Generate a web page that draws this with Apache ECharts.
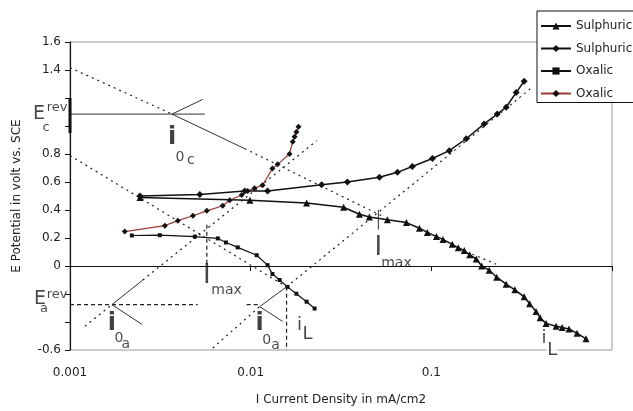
<!DOCTYPE html>
<html>
<head>
<meta charset="utf-8">
<script src="https://cdn.jsdelivr.net/npm/echarts@6/dist/echarts.min.js"></script>
<style>
  html, body { margin: 0; padding: 0; background: #fff; }
  #chart { width: 633px; height: 411px; }
</style>
</head>
<body>
<div id="chart"></div>
<script>
// legend names (trailing space keeps the two pairs apart, trimmed on display)
const seriesNames = ["Sulphuric", "Sulphuric ", "Oxalic", "Oxalic "];

const xTickLabels = [0.001, 0.01, 0.1];
const yTickLabels = [-0.6, 0, 0.2, 0.4, 0.6, 0.8, 1.4, 1.6];

// measured curves [current density, potential]
const sulphuricTriangle = [
  [0.00244, 0.49], [0.0099, 0.47], [0.0204, 0.45], [0.0327, 0.42], [0.040, 0.37],
  [0.0454, 0.35], [0.0571, 0.33], [0.0728, 0.31], [0.0859, 0.27], [0.0951, 0.24],
  [0.1067, 0.21], [0.116, 0.19], [0.1306, 0.155], [0.141, 0.13], [0.1521, 0.11],
  [0.163, 0.08], [0.1773, 0.05], [0.19, 0.0], [0.209, -0.03], [0.23, -0.08],
  [0.2596, -0.13], [0.29, -0.17], [0.3266, -0.22], [0.35, -0.27], [0.380, -0.325],
  [0.40, -0.37], [0.4315, -0.41], [0.4906, -0.43], [0.53, -0.44], [0.578, -0.45],
  [0.64, -0.48], [0.718, -0.52]
];
const sulphuricDiamond = [
  [0.00244, 0.50], [0.00523, 0.51], [0.00927, 0.535], [0.0124, 0.535], [0.0247, 0.58],
  [0.0343, 0.60], [0.0516, 0.634], [0.0649, 0.669], [0.0785, 0.711], [0.1014, 0.768],
  [0.1257, 0.824], [0.156, 0.909], [0.196, 1.015], [0.2316, 1.085], [0.2596, 1.134],
  [0.295, 1.24], [0.3266, 1.32]
];
const oxalicBlack = [
  [0.0022, 0.218], [0.00314, 0.22], [0.00491, 0.21], [0.00658, 0.197], [0.0073, 0.168],
  [0.00848, 0.133], [0.0108, 0.077], [0.0124, 0.006], [0.0132, -0.057], [0.01446, -0.10],
  [0.016, -0.149], [0.0179, -0.198], [0.0204, -0.255], [0.0226, -0.304]
];
const oxalicRed = [
  [0.00201, 0.246], [0.00335, 0.288], [0.00395, 0.324], [0.00479, 0.359], [0.00572, 0.394],
  [0.0070, 0.43], [0.00766, 0.47], [0.00892, 0.507], [0.00962, 0.535], [0.0105, 0.556],
  [0.01164, 0.577], [0.0132, 0.697], [0.0141, 0.726], [0.0164, 0.80], [0.0171, 0.888],
  [0.0175, 0.923], [0.0179, 0.958], [0.0184, 0.994]
];

// construction lines
const solidLines = [
  [[0.001, 1.085], [0.00557, 1.085]],
  [[0.00367, 1.085], [0.00543, 1.19]],
  [[0.00367, 1.085], [0.00927, 0.838]],
  [[0.001706, -0.276], [0.00253, -0.10]],
  [[0.001706, -0.276], [0.0025, -0.417]],
  [[0.01122, -0.29], [0.0158, -0.149]],
  [[0.01122, -0.29], [0.01503, -0.396]],
  [[0.0509, 0.401], [0.0509, 0.26]]
];
const dottedLines = [
  [[0.001, 1.417], [0.00367, 1.085]],
  [[0.00927, 0.838], [0.053, 0.359]],
  [[0.001, 0.789], [0.0158, -0.149]],
  [[0.00121, -0.431], [0.001706, -0.276]],
  [[0.00253, -0.10], [0.0232, 0.895]],
  [[0.00617, -0.586], [0.01122, -0.29]],
  [[0.0158, -0.149], [0.361, 1.276]],
  [[0.1687, 0.084], [0.2286, 0.013]]
];
const dashedLines = [
  [[0.001, -0.276], [0.00509, -0.276]],
  [[0.0095, -0.276], [0.0112, -0.276]],
  [[0.00572, 0.295], [0.00572, -0.008]],
  [[0.0158, -0.149], [0.0158, -0.6]]
];
const axisMark = [[0.001, 1.2], [0.001, 0.95]];

// annotation texts [x, y, text]
const boldLetters = [[0.00367, 0.916, "i"], [0.001706, -0.41, "i"], [0.01122, -0.41, "i"]];
const plainLetters = [[0.01866, -0.424, "i"], [0.4207, -0.516, "i"], [0.02065, -0.487, "L"], [0.4667, -0.60, "L"]];
const capLetters = [[0.00572, -0.071, "I"], [0.0509, 0.126, "I"]];
const subLetters = [
  [0.00406, 0.775, "0"], [0.00467, 0.754, "c"], [0.001866, -0.516, "0"], [0.002037, -0.558, "a"],
  [0.01225, -0.53, "0"], [0.01375, -0.565, "a"], [0.00736, -0.177, "max"], [0.0641, 0.02, "max"]
];
const eLetters = [[0.000674, 1.085, "E"], [0.000683, -0.234, "E"]];
const supLetters = [[0.000848, 1.128, "rev"], [0.000848, -0.205, "rev"], [0.000737, 0.986, "c"], [0.000718, -0.304, "a"]];

const font = "DejaVu Sans";
const chart = echarts.init(document.getElementById("chart"));

function near(list, v) {
  return list.some(t => Math.abs(t - v) < 1e-6);
}

function lineSeries(segments, style) {
  return segments.map(seg => ({
    type: "line",
    data: seg,
    symbol: "none",
    silent: true,
    clip: false,
    z: 1,
    lineStyle: style
  }));
}

function textSeries(items, label) {
  return {
    type: "scatter",
    data: items,
    symbolSize: 0,
    silent: true,
    clip: false,
    z: 5,
    label: Object.assign({
      show: true,
      position: "inside",
      color: "#1a1a1a",
      fontFamily: font,
      formatter: p => p.data[2]
    }, label)
  };
}

const series = [
  {
    name: seriesNames[0], type: "line", data: sulphuricTriangle,
    symbol: "triangle", symbolSize: 7, z: 3,
    lineStyle: { color: "#111", width: 1.5 }, itemStyle: { color: "#111" }
  },
  {
    name: seriesNames[1], type: "line", data: sulphuricDiamond,
    symbol: "diamond", symbolSize: 7, z: 3,
    lineStyle: { color: "#111", width: 1.5 }, itemStyle: { color: "#111" }
  },
  {
    name: seriesNames[2], type: "line", data: oxalicBlack,
    symbol: "rect", symbolSize: 4, z: 3,
    lineStyle: { color: "#111", width: 1.2 }, itemStyle: { color: "#111" }
  },
  {
    name: seriesNames[3], type: "line", data: oxalicRed,
    symbol: "diamond", symbolSize: 6, z: 3,
    lineStyle: { color: "#9c3b34", width: 1.2 }, itemStyle: { color: "#111" }
  }
]
  .concat(lineSeries(solidLines, { color: "#333", width: 1 }))
  .concat(lineSeries(dottedLines, { color: "#222", width: 1.2, type: [2, 4] }))
  .concat(lineSeries(dashedLines, { color: "#222", width: 1.2, type: [4, 3] }))
  .concat(lineSeries([axisMark], { color: "#111", width: 3 }))
  .concat([
    textSeries(boldLetters, { fontSize: 24, fontWeight: "bold", color: "#111" }),
    textSeries(plainLetters, { fontSize: 18, backgroundColor: "#fff", padding: [0, 1] }),
    textSeries(capLetters, { fontSize: 26 }),
    textSeries(subLetters, { fontSize: 14 }),
    textSeries(eLetters, { fontSize: 19 }),
    textSeries(supLetters, { fontSize: 13 })
  ]);

chart.setOption({
  animation: false,
  backgroundColor: "#fff",
  textStyle: { fontFamily: font },
  grid: {
    left: 70, right: 21, top: 42, bottom: 58,
    show: true, borderColor: "#999", borderWidth: 1
  },
  legend: {
    data: seriesNames,
    orient: "vertical",
    left: 537, top: 11,
    padding: [9, 60, 3, 3],
    itemWidth: 30, itemHeight: 9, itemGap: 10.5,
    backgroundColor: "#fff",
    borderColor: "#111", borderWidth: 1,
    textStyle: { fontFamily: font, fontSize: 12, color: "#222" },
    formatter: name => name.trim()
  },
  xAxis: {
    type: "log", logBase: 10, min: 0.001, max: 1,
    name: "I Current Density in mA/cm2",
    nameLocation: "middle", nameGap: 44,
    nameTextStyle: { fontFamily: font, fontSize: 12, color: "#222" },
    axisLine: { lineStyle: { color: "#111", width: 1.2 } },
    axisTick: { length: 5, lineStyle: { color: "#111" } },
    minorTick: { show: false },
    splitLine: { show: false },
    axisLabel: {
      margin: 17, fontFamily: font, fontSize: 12, color: "#222",
      formatter: v => {
        const t = xTickLabels.find(d => Math.abs(d - v) < d * 1e-6);
        return t === undefined ? "" : String(t);
      }
    }
  },
  yAxis: {
    type: "value", min: -0.6, max: 1.6, interval: 0.2,
    name: "E Potential in volt vs. SCE",
    nameLocation: "middle", nameGap: 47, nameRotate: 90,
    nameTextStyle: { fontFamily: font, fontSize: 12, color: "#222" },
    axisLine: { show: true, lineStyle: { color: "#111", width: 1.2 } },
    axisTick: { show: true, length: 5, lineStyle: { color: "#111" } },
    splitLine: { show: false },
    axisLabel: {
      margin: 9, fontFamily: font, fontSize: 12, color: "#222",
      formatter: v => near(yTickLabels, v) ? String(Math.round(v * 10) / 10) : ""
    }
  },
  series: series
});
</script>
</body>
</html>
